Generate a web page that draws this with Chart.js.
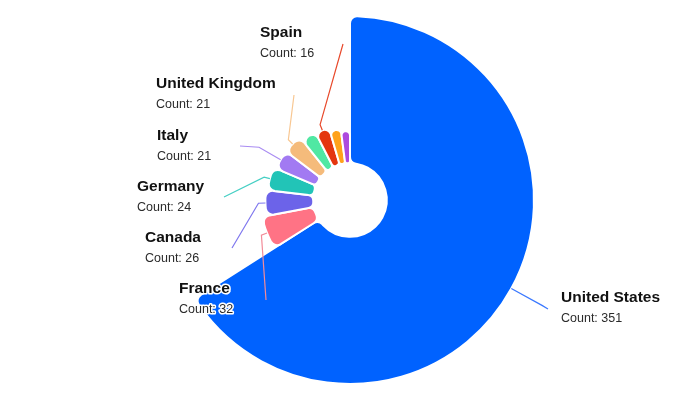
<!DOCTYPE html>
<html>
<head>
<meta charset="utf-8">
<script src="https://cdn.jsdelivr.net/npm/chart.js@4.4.0/dist/chart.umd.min.js"></script>
<style>
  html, body { margin: 0; padding: 0; background: #fff; }
  #wrap { width: 700px; height: 407px; }
</style>
</head>
<body>
<div id="wrap"><canvas id="countryChart"></canvas></div>
<script>
// Data (the three unlabelled slices are estimates)
const countries = ['United States', 'France', 'Canada', 'Germany', 'Italy', 'United Kingdom', 'Netherlands', 'Spain', 'Australia', 'Japan'];
const counts = [351, 32, 26, 24, 21, 21, 17, 16, 13, 11];
const showLabel = [true, true, true, true, true, true, false, true, false, false];

const sliceColors = ['#0062ff', '#ff7385', '#6c63e9', '#22c4b7', '#a27af2', '#f5bb7b', '#50e8a3', '#e4360f', '#ffa21c', '#ad4ade'];
const lineColors = ['#3a78ff', '#f28b98', '#7f77ee', '#45cfc4', '#a98cf2', '#f8c792', '#50e8a3', '#e8492b', '#ffa21c', '#ad4ade'];

// label placement (style only): radial first segment, end of the leader, text anchor
const labelSpots = [
  { len: 35, end: [548, 309], text: [561, 302] },
  { len: 6, end: [266, 300], text: [179, 293] },
  { len: 7, end: [232, 248], text: [145, 242] },
  { len: 6, end: [224, 197], text: [137, 191] },
  { len: 25, end: [240, 146], text: [157, 140] },
  { len: 6, end: [294, 95], text: [156, 88] },
  null,
  { len: 6, end: [343, 44], text: [260, 37] },
  null,
  null
];

const total = counts.reduce((a, b) => a + b, 0);
const holeRatio = 0.2;

// radial scale that compresses big values so the small slices stay readable
class RoseScale extends Chart.RadialLinearScale {
  getDistanceFromCenterForValue(value) {
    if (value === null || isNaN(value)) return 0;
    const t = Math.pow(Math.max(value, 0) / this.max, 0.4);
    return this.drawingArea * (0.165 + 0.835 * t);
  }
}
RoseScale.id = 'rose';
Chart.register(RoseScale);

// polar area arcs start at the centre, cut the hole out
const holePlugin = {
  id: 'hole',
  afterDatasetUpdate(chart, args) {
    const r = chart.scales.r.drawingArea * holeRatio;
    args.meta.data.forEach(arc => { arc.innerRadius = r; });
  }
};

const labelPlugin = {
  id: 'countLabels',
  afterDatasetsDraw(chart) {
    const ctx = chart.ctx;
    const arcs = chart.getDatasetMeta(0).data;
    arcs.forEach((arc, i) => {
      const spot = labelSpots[i];
      if (!showLabel[i] || !spot) return;
      const mid = (arc.startAngle + arc.endAngle) / 2;
      const r0 = arc.outerRadius;
      const x0 = arc.x + Math.cos(mid) * r0;
      const y0 = arc.y + Math.sin(mid) * r0;
      const x1 = arc.x + Math.cos(mid) * (r0 + spot.len);
      const y1 = arc.y + Math.sin(mid) * (r0 + spot.len);

      ctx.save();
      ctx.strokeStyle = lineColors[i];
      ctx.lineWidth = 1.2;
      ctx.beginPath();
      ctx.moveTo(x0, y0);
      ctx.lineTo(x1, y1);
      ctx.lineTo(spot.end[0], spot.end[1]);
      ctx.stroke();

      ctx.textAlign = 'left';
      ctx.textBaseline = 'alphabetic';
      ctx.lineJoin = 'round';
      ctx.strokeStyle = '#fff';
      ctx.lineWidth = 3;

      ctx.font = 'bold 15.5px "Liberation Sans", Arial, sans-serif';
      ctx.strokeText(countries[i], spot.text[0], spot.text[1]);
      ctx.fillStyle = '#111';
      ctx.fillText(countries[i], spot.text[0], spot.text[1]);

      ctx.font = '12.5px "Liberation Sans", Arial, sans-serif';
      const sub = 'Count: ' + counts[i];
      ctx.strokeText(sub, spot.text[0], spot.text[1] + 20);
      ctx.fillStyle = '#2b2b2b';
      ctx.fillText(sub, spot.text[0], spot.text[1] + 20);
      ctx.restore();
    });
  }
};

const ctx = document.getElementById('countryChart').getContext('2d');
const countryChart = new Chart(ctx, {
  type: 'polarArea',
  data: {
    labels: countries,
    datasets: [{
      data: counts,
      backgroundColor: sliceColors,
      borderColor: '#fff',
      borderWidth: 2,
      borderRadius: 7,
      angle: counts.map(v => v / total * 360)
    }]
  },
  options: {
    responsive: true,
    maintainAspectRatio: false,
    animation: false,
    layout: { padding: { top: 16, bottom: 22, left: 0, right: 0 } },
    scales: {
      r: {
        type: 'rose',
        display: false,
        min: 0,
        max: Math.max(...counts),
        startAngle: 0
      }
    },
    plugins: {
      legend: { display: false },
      tooltip: { enabled: false }
    }
  },
  plugins: [holePlugin, labelPlugin]
});
</script>
</body>
</html>
